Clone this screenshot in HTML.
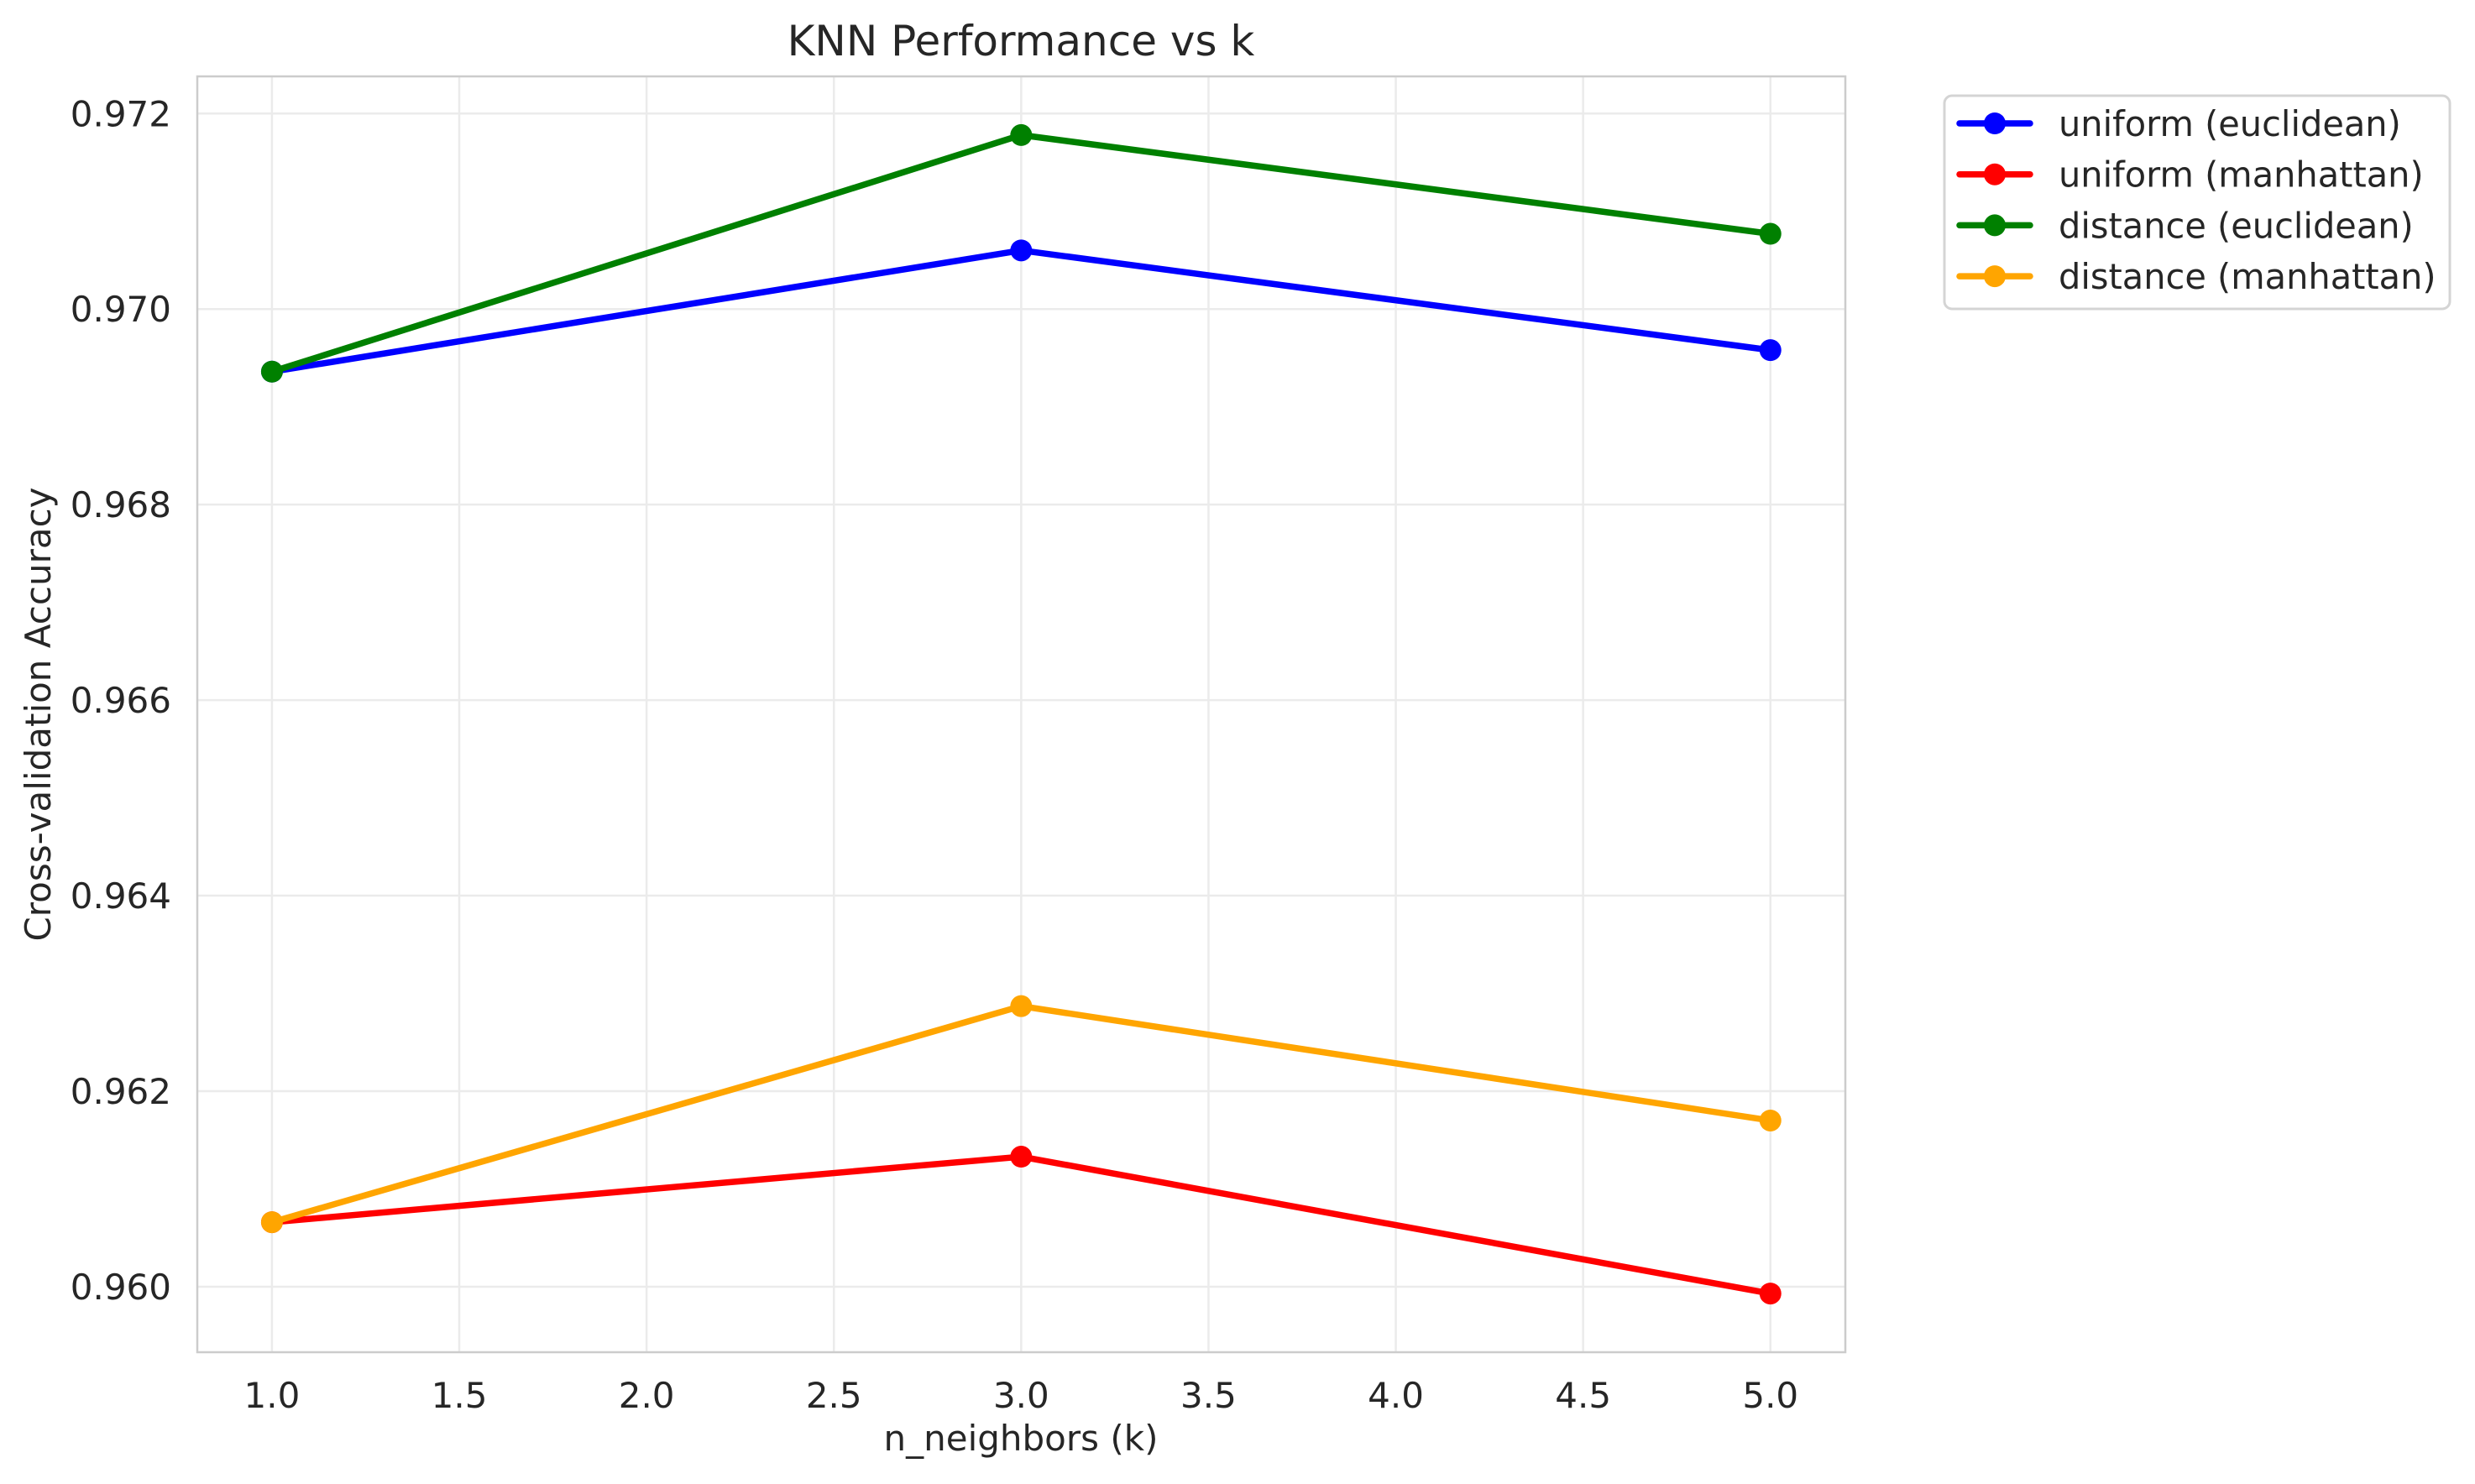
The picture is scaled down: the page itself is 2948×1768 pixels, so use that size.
<!DOCTYPE html>
<html><head><meta charset="utf-8">
<style>
html,body{margin:0;padding:0;background:#fff;}
svg{display:block;font-family:"DejaVu Sans","Liberation Sans",sans-serif;}
</style></head>
<body>
<svg id="chart" width="2948" height="1768" viewBox="0 0 2948 1768" xmlns="http://www.w3.org/2000/svg">
<rect x="0" y="0" width="2948" height="1768" fill="#fff"/>
<g id="grid"></g>
<g id="series"></g>
<rect x="235" y="91" width="1963" height="1520" fill="none" stroke="#cccccc" stroke-width="2.5"/>
<g id="ticks"></g>
<text x="1216" y="66" font-size="50" fill="#262626" text-anchor="middle">KNN Performance vs k</text>
<text x="1216" y="1728" font-size="42" fill="#262626" text-anchor="middle">n_neighbors (k)</text>
<text x="0" y="0" font-size="42" fill="#262626" text-anchor="middle" transform="translate(60,851) rotate(-90)">Cross-validation Accuracy</text>
<g id="legend">
<rect x="2316" y="114" width="602" height="254" rx="9" fill="#fff" stroke="#d4d4d4" stroke-width="3"/>
</g>
</svg>
<script>
const categories = [1, 3, 5];
const seriesNames = ["uniform (euclidean)", "uniform (manhattan)", "distance (euclidean)", "distance (manhattan)"];
const seriesColors = ["#0000ff", "#ff0000", "#008000", "#ffa500"];
const uniformEuclidean = [0.96936, 0.97060, 0.96958];
const uniformManhattan = [0.96066, 0.96133, 0.95993];
const distanceEuclidean = [0.96936, 0.97178, 0.97077];
const distanceManhattan = [0.96066, 0.96287, 0.96170];
const xTicks = [1.0, 1.5, 2.0, 2.5, 3.0, 3.5, 4.0, 4.5, 5.0];
const yTicks = [0.960, 0.962, 0.964, 0.966, 0.968, 0.970, 0.972];

const NS = "http://www.w3.org/2000/svg";
const PL = 235, PR = 2198, PT = 91, PB = 1611;
const X0 = 0.8007, X1 = 5.2;
const Y0 = 0.95933, Y1 = 0.97238;
function xs(v){ return PL + (v - X0) / (X1 - X0) * (PR - PL); }
function ys(v){ return PB - (v - Y0) / (Y1 - Y0) * (PB - PT); }
function mk(tag, attrs, parent){ const e = document.createElementNS(NS, tag); for (const k in attrs) e.setAttribute(k, attrs[k]); parent.appendChild(e); return e; }

const grid = document.getElementById("grid");
const ticks = document.getElementById("ticks");
xTicks.forEach(t => {
  const l = mk("line", {x1: xs(t), x2: xs(t), y1: PT, y2: PB, stroke: "#ebebeb", "stroke-width": 2.5}, grid);
  
  
  const tx = mk("text", {x: xs(t), y: 1677, "font-size": 42, fill: "#262626", "text-anchor": "middle"}, ticks);
  tx.textContent = t.toFixed(1);
  
  
});
yTicks.forEach(t => {
  const l = mk("line", {x1: PL, x2: PR, y1: ys(t), y2: ys(t), stroke: "#ebebeb", "stroke-width": 2.5}, grid);
  
  
  const tx = mk("text", {x: 204, y: ys(t) + 15, "font-size": 42, fill: "#262626", "text-anchor": "end"}, ticks);
  tx.textContent = t.toFixed(3);
  
  
});

const allSeries = [uniformEuclidean, uniformManhattan, distanceEuclidean, distanceManhattan];
const sg = document.getElementById("series");
allSeries.forEach((vals, i) => {
  const g = mk("g", {}, sg);
  
  
  const pts = vals.map((v, j) => xs(categories[j]) + "," + ys(v)).join(" ");
  const pl = mk("polyline", {points: pts, fill: "none", stroke: seriesColors[i], "stroke-width": 7.5, "stroke-linejoin": "round", "stroke-linecap": "round"}, g);
  
  
  vals.forEach((v, j) => {
    const c = mk("circle", {cx: xs(categories[j]), cy: ys(v), r: 13, fill: seriesColors[i]}, g);
    
    
  });
});

const lg = document.getElementById("legend");
seriesNames.forEach((name, i) => {
  const y = 147 + i * 60.7;
  const g = mk("g", {}, lg);
  
  
  mk("line", {x1: 2334, x2: 2418, y1: y, y2: y, stroke: seriesColors[i], "stroke-width": 7.5, "stroke-linecap": "round"}, g);
  mk("circle", {cx: 2376, cy: y, r: 13, fill: seriesColors[i]}, g);
  const t = mk("text", {x: 2452, y: y + 15, "font-size": 41.5, fill: "#262626"}, g);
  t.textContent = name;
});
</script>
</body></html>
